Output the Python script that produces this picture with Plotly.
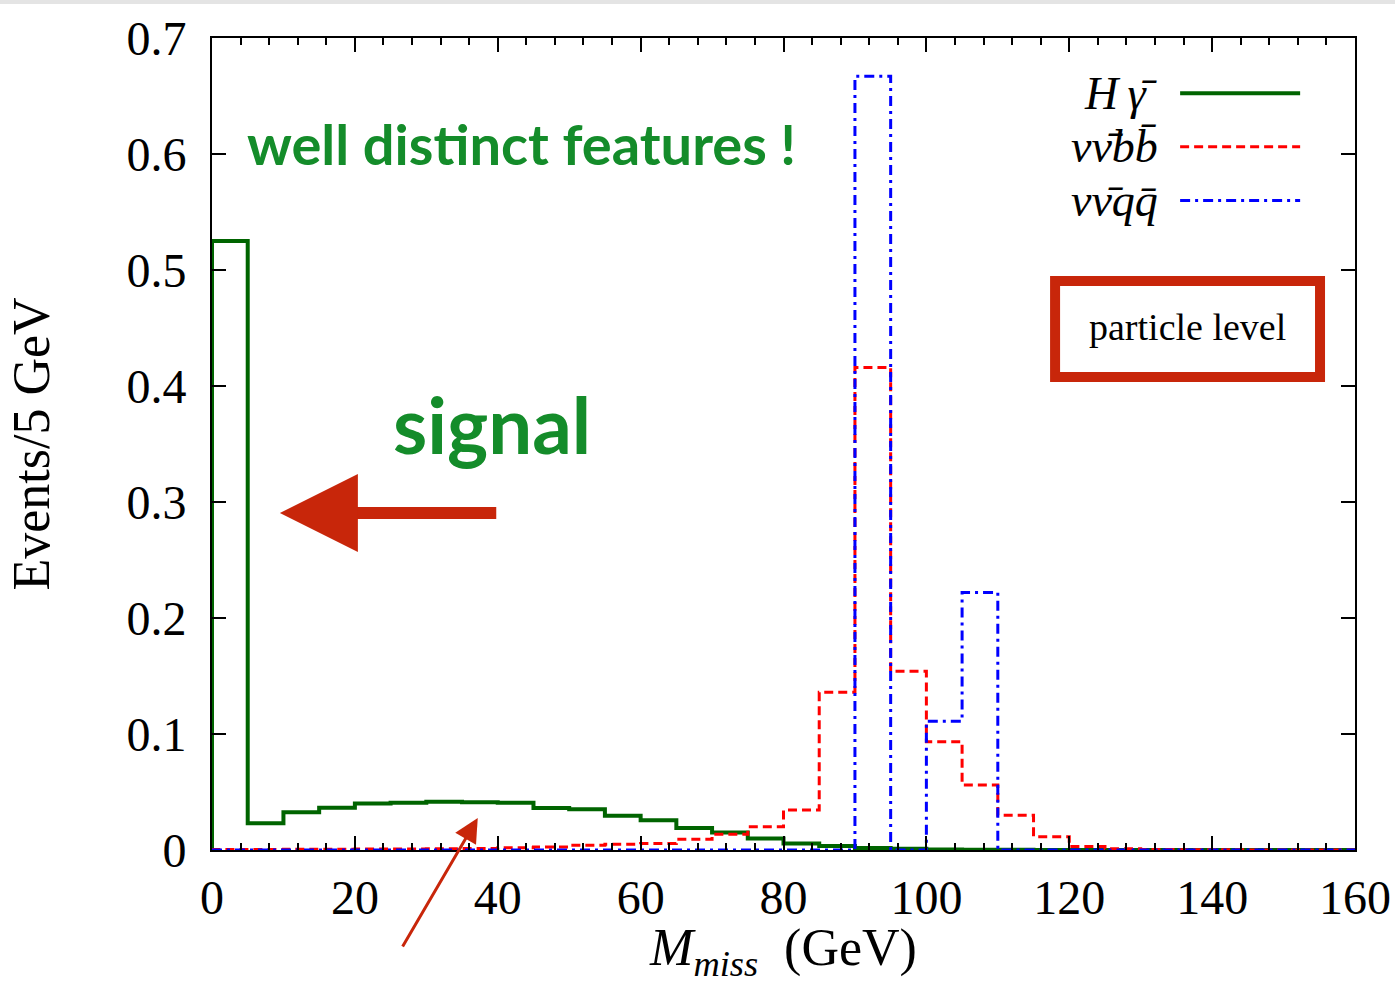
import plotly.graph_objects as go

# ---- data (bins of 5 GeV from 0 to 160) ----
bin_edges = list(range(0, 165, 5))
h_gamma = [0.525, 0.023, 0.0325, 0.0365, 0.040, 0.0408, 0.0417, 0.0411, 0.0408, 0.0362,
           0.0351, 0.0296, 0.0256, 0.019, 0.015, 0.010, 0.0057, 0.0034, 0.0017, 0.001,
           0.0005, 0.0003, 0.0002, 0.0001, 0, 0, 0, 0, 0, 0, 0, 0]
nunu_bb = [0.0005, 0.0005, 0.0006, 0.0006, 0.0008, 0.0008, 0.001, 0.0012, 0.002, 0.0026,
           0.004, 0.005, 0.0057, 0.0092, 0.0135, 0.020, 0.0345, 0.136, 0.416, 0.154,
           0.0934, 0.056, 0.030, 0.0115, 0.003, 0.001, 0.0005, 0.0003, 0.0002, 0.0001, 0, 0]
nunu_qq = [0, 0, 0, 0, 0, 0, 0, 0, 0, 0,
           0, 0, 0, 0, 0, 0, 0, 0, 0.667, 0,
           0.111, 0.222, 0, 0, 0, 0, 0, 0, 0, 0, 0, 0]

x_ticks = [0, 20, 40, 60, 80, 100, 120, 140, 160]
y_ticks = [0, 0.1, 0.2, 0.3, 0.4, 0.5, 0.6, 0.7]

legend_names = ["<i>H\u2009\u03b3\u0304</i>", "<i>\u03bd\u03bd\u0304bb\u0304</i>", "<i>\u03bd\u03bd\u0304qq\u0304</i>"]
colors = ["#006400", "#ff0000", "#0000ff"]
dashes = ["solid", "9px,5px", "10px,5px,3px,5px"]
widths = [4, 3, 3]

SERIF = "Liberation Serif"
GREEN_TXT = "#148c2a"
RED_ANN = "#c8260a"


def step_xy(edges, vals):
    xs = [edges[0]] + edges[:-1] + [edges[-1]]
    ys = [0] + vals + [vals[-1]]
    return xs, ys


fig = go.Figure()
for vals, name, c, d, w in zip([h_gamma, nunu_bb, nunu_qq], legend_names, colors, dashes, widths):
    xs, ys = step_xy(bin_edges, vals)
    fig.add_trace(go.Scatter(x=xs, y=ys, mode="lines", line=dict(shape="hv", color=c, width=w, dash=d),
                             name=name, showlegend=False, cliponaxis=False))

axis_common = dict(showline=True, linecolor="black", linewidth=2, mirror="ticks",
                   ticks="inside", tickcolor="black", tickwidth=2, ticklen=14,
                   showgrid=False, zeroline=False, automargin=False,
                   tickfont=dict(family=SERIF, size=48, color="black"))

fig.update_xaxes(range=[0, 160], tickvals=x_ticks, ticktext=[str(v) for v in x_ticks],
                 minor=dict(ticks="inside", dtick=4, ticklen=7, tickwidth=2, tickcolor="black"),
                 ticklabelstandoff=4,
                 title=dict(text="<i>M</i><sub><i>miss</i></sub>  (GeV)", font=dict(family=SERIF, size=52, color="black"), standoff=14),
                 **axis_common)
fig.update_yaxes(range=[0, 0.7], tickvals=y_ticks, ticktext=["0" if v == 0 else f"{v:.1f}" for v in y_ticks],
                 ticklabelstandoff=14,
                 title=dict(text="Events/5 GeV", font=dict(family=SERIF, size=52, color="black"), standoff=60),
                 **axis_common)

# legend (text on the left, line sample on the right)
leg_y = [0.932, 0.866, 0.800]
for name, c, d, w, yy in zip(legend_names, colors, dashes, widths, leg_y):
    fig.add_annotation(xref="paper", yref="paper", x=0.829, y=yy, text=name, showarrow=False,
                       xanchor="right", yanchor="middle", font=dict(family=SERIF, size=46, color="black"))
    fig.add_shape(type="line", xref="paper", yref="paper", x0=0.847, x1=0.952, y0=yy, y1=yy,
                  line=dict(color=c, width=w, dash=d))

# particle level box
fig.add_shape(type="rect", xref="paper", yref="paper", x0=0.7376, x1=0.9694, y0=0.5825, y1=0.7007,
              line=dict(color=RED_ANN, width=10), fillcolor="rgba(0,0,0,0)")
fig.add_annotation(xref="paper", yref="paper", x=0.8535, y=0.644, text="particle level", showarrow=False,
                   xanchor="center", yanchor="middle",
                   font=dict(family=SERIF, size=38, color="black"))

# green comments
fig.add_annotation(xref="paper", yref="paper", x=0.0289, y=0.87, text="<b>well distinct features !</b>",
                   showarrow=False, xanchor="left", yanchor="middle",
                   font=dict(family="Lato", size=56, color=GREEN_TXT))
fig.add_annotation(xref="paper", yref="paper", x=0.157, y=0.525, text="<b>signal</b>",
                   showarrow=False, xanchor="left", yanchor="middle",
                   font=dict(family="Lato", size=78, color=GREEN_TXT))

# arrows
fig.add_annotation(x=9.5, y=0.2905, ax=40, ay=0.2905, axref="x", ayref="y", xref="x", yref="y",
                   text="", showarrow=True, arrowhead=2, arrowsize=1.3, arrowwidth=12, arrowcolor=RED_ANN)
fig.add_annotation(x=37.2, y=0.0276, ax=-76, ay=130, xref="x", yref="y",
                   text="", showarrow=True, arrowhead=2, arrowsize=1.6, arrowwidth=3, arrowcolor=RED_ANN)

# thin grey strip at the very top (screenshot edge)
fig.add_shape(type="rect", xref="paper", yref="paper", x0=-0.19, x1=1.04, y0=1.0419, y1=1.0475,
              line=dict(width=0), fillcolor="#e4e4e4")

fig.update_layout(width=1395, height=984, margin=dict(l=212, r=40, t=38, b=134),
                  plot_bgcolor="white", paper_bgcolor="white", showlegend=False)

fig.write_html("out.html", config={"displayModeBar": False})
